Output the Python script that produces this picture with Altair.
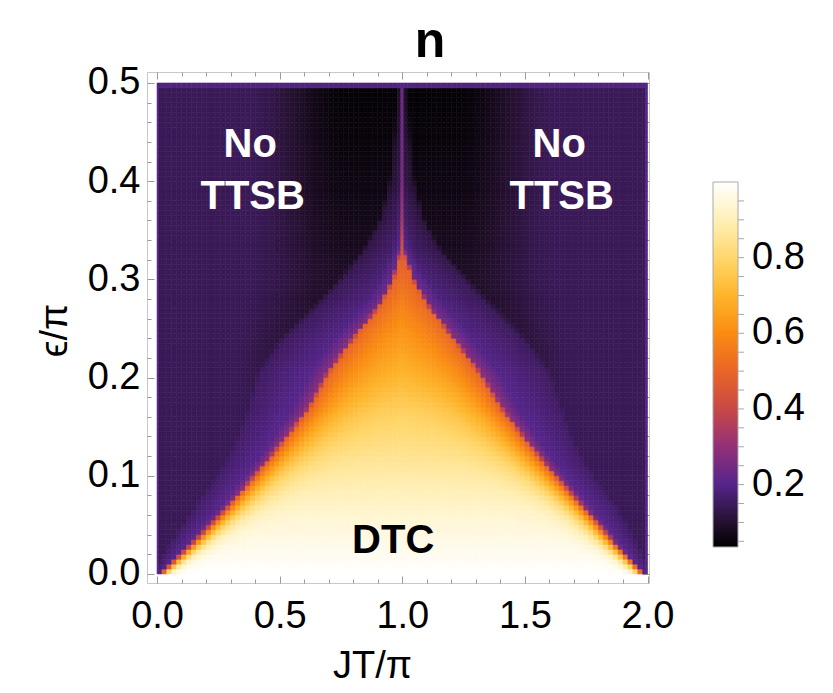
import numpy as np
import pandas as pd
import altair as alt

alt.data_transformers.disable_max_rows()

# ---- values (per epsilon row) ----
EPS_ROWS   = [0.000, 0.030, 0.065, 0.100, 0.133, 0.167, 0.205, 0.238, 0.272, 0.300, 0.330, 0.360, 0.400, 0.450, 0.500]
LEFT_EDGE  = [0.020, 0.148, 0.285, 0.405, 0.515, 0.620, 0.705, 0.800, 0.910, 0.970, 1.000, 1.000, 1.000, 1.000, 1.000]
RIGHT_EDGE = [1.980, 1.865, 1.745, 1.620, 1.510, 1.405, 1.310, 1.210, 1.105, 1.040, 1.000, 1.000, 1.000, 1.000, 1.000]
CORE_VALUE = [1.000, 0.970, 0.930, 0.880, 0.830, 0.780, 0.700, 0.640, 0.580, 0.520, 0.440, 0.330, 0.260, 0.240, 0.240]
RAMP_SCALE = [0.020, 0.040, 0.060, 0.080, 0.100, 0.120, 0.150, 0.150, 0.150, 0.150, 0.150, 0.150, 0.150, 0.150, 0.150]
HALO_WIDTH = [0.030, 0.090, 0.130, 0.150, 0.180, 0.230, 0.270, 0.270, 0.240, 0.200, 0.140, 0.080, 0.040, 0.020, 0.010]
HALO_EDGE  = [0.320, 0.320, 0.320, 0.320, 0.320, 0.310, 0.300, 0.290, 0.270, 0.250, 0.230, 0.190, 0.150, 0.130, 0.120]
HALO_VALUE = [0.205, 0.205, 0.205, 0.205, 0.205, 0.205, 0.200, 0.195, 0.188, 0.178, 0.165, 0.150, 0.130, 0.120, 0.110]
DARK_VALUE = [0.145, 0.145, 0.145, 0.145, 0.145, 0.140, 0.130, 0.115, 0.100, 0.090, 0.080, 0.070, 0.060, 0.050, 0.042]
DARK_OUTER = [0.700, 0.700, 0.700, 0.700, 0.700, 0.700, 0.700, 0.700, 0.680, 0.660, 0.650, 0.640, 0.640, 0.640, 0.640]
BACKGROUND = 0.145
TOP_BAND = 0.19
EDGE_BAND = 0.20

X_TICKS = [round(0.1 * k, 2) for k in range(21)]
Y_TICKS = [round(0.02 * k, 2) for k in range(26)]
X_LABELS = [0.0, 0.5, 1.0, 1.5, 2.0]
Y_LABELS = [0.0, 0.1, 0.2, 0.3, 0.4, 0.5]
CBAR_LABELS = [0.2, 0.4, 0.6, 0.8]
CBAR_TICKS = [round(0.05 * k, 2) for k in range(1, 20)]

COLOR_DOMAIN = [0.035, 0.1, 0.2, 0.3, 0.4, 0.5, 0.6, 0.7, 0.8, 0.9, 1.0]
COLOR_RANGE = ["#000000", "#24102e", "#55258a", "#923078", "#c94846", "#e96526",
               "#fa8b12", "#feb42a", "#ffd76c", "#fff0b8", "#ffffff"]

LABEL_TEXT = ["No", "TTSB", "No", "TTSB", "DTC"]
LABEL_X = [0.38, 0.39, 1.64, 1.65, 0.963]
LABEL_Y = [0.437, 0.384, 0.437, 0.384, 0.034]
LABEL_COLOR = ["white", "white", "white", "white", "black"]

# ---- grid cells ----
half = [0.0, 0.008] + [round(0.02 * k, 4) for k in range(1, 50)] + [0.994]
X_EDGES = half + [round(2 - e, 4) for e in reversed(half)]
Y_EDGES = [round(0.005 * k, 4) for k in range(101)]


def P(arr, e):
    return float(np.interp(e, EPS_ROWS, arr))


def smooth(u):
    u = min(max(u, 0.0), 1.0)
    return u * u * (3 - 2 * u)


def halo(d, H, HE, HV, tri):
    if tri and d < 0.012:
        return 0.5 - (0.5 - HE) * d / 0.012
    u = d / max(H, 1e-6)
    if u <= 0.3:
        return HE - (HE - HV) * u / 0.3
    if u <= 1.0:
        return HV - 0.2 * HV * (u - 0.3) / 0.7
    fade = max(0.4 * H, 0.03)
    w = (d - H) / fade
    if w < 1:
        return 0.8 * HV * (1 - smooth(w))
    return 0.0


recs = []
nx = len(X_EDGES) - 1
for j in range(len(Y_EDGES) - 1):
    y0, y1 = Y_EDGES[j], Y_EDGES[j + 1]
    e = 0.5 * (y0 + y1)
    L, R, C = P(LEFT_EDGE, e), P(RIGHT_EDGE, e), P(CORE_VALUE, e)
    s, H, HE, HV = P(RAMP_SCALE, e), P(HALO_WIDTH, e), P(HALO_EDGE, e), P(HALO_VALUE, e)
    D, B = P(DARK_VALUE, e), P(DARK_OUTER, e)
    tri = L < 0.999
    for i in range(nx):
        x0, x1 = X_EDGES[i], X_EDGES[i + 1]
        x = 0.5 * (x0 + x1)
        if abs(x - 1) < 1e-9:
            v = C
        else:
            if x < 1:
                t, span = x - L, 1 - L
            else:
                t, span = R - x, R - 1
            if tri and t >= 0:
                v = 0.5 + (C - 0.5) * (1 - np.exp(-t / s)) / (1 - np.exp(-span / s))
            else:
                d = -t
                h = halo(d, H, HE, HV, tri)
                r = abs(x - 1)
                A = max(0.22, span + H)
                if r <= A:
                    S = D
                elif r >= B:
                    S = BACKGROUND
                else:
                    S = D + (BACKGROUND - D) * smooth((r - A) / (B - A))
                v = max(h, S)
        if (i == 0 or i == nx - 1) and v < EDGE_BAND:
            v = EDGE_BAND
        if y0 >= 0.495 and v < 0.5:
            v = TOP_BAND
        recs.append((x0, x1, y0, y1, float(v)))

df = pd.DataFrame(recs, columns=["x0", "x1", "y0", "y1", "v"])

FONT = "Liberation Sans"
W, Hh = 502, 511
xs = alt.Scale(domain=[-0.041, 2.006], nice=False, zero=False)
ys = alt.Scale(domain=[-0.0092, 0.5112], nice=False, zero=False)
cscale = alt.Scale(domain=COLOR_DOMAIN, range=COLOR_RANGE, interpolate="rgb", clamp=True)

heat = alt.Chart(df).mark_rect(strokeWidth=0.6).encode(
    x=alt.X("x0:Q", scale=xs, axis=alt.Axis(
        values=X_LABELS, format=".1f", ticks=False, domain=False, grid=False,
        labelPadding=14, title="JT/π", titleX=225, titleY=94, titleBaseline="alphabetic")),
    x2="x1:Q",
    y=alt.Y("y0:Q", scale=ys, axis=alt.Axis(
        values=Y_LABELS, format=".1f", ticks=False, domain=False, grid=False,
        labelPadding=7, title="ϵ/π", titleX=-92, titleY=258, titleBaseline="middle", titleAngle=-90)),
    y2="y1:Q",
    color=alt.Color("v:Q", scale=cscale, legend=alt.Legend(
        orient="none", legendX=566, legendY=110, direction="vertical",
        gradientLength=365, gradientThickness=25, values=CBAR_LABELS, format=".1f",
        labelFontSize=38, labelFont=FONT, labelColor="black", labelOffset=14,
        labelBaseline="middle", labelOverlap=False, title=None, padding=0,
        gradientStrokeColor="#aaaaaa", gradientStrokeWidth=1)),
    stroke=alt.Stroke("v:Q", scale=cscale, legend=None),
)

major_x = {"condition": {"test": "round(datum.value*10) % 5 == 0", "value": 7}, "value": 4}
major_y = {"condition": {"test": "round(datum.value*50) % 5 == 0", "value": 7}, "value": 4}
tick_common = dict(labels=False, domain=False, grid=False, title=None, tickColor="#9a9a9a", tickWidth=1)

dummy = pd.DataFrame({"x": [0.0], "y": [0.0]})
ticks_a = alt.Chart(dummy).mark_point(opacity=0).encode(
    x=alt.X("x:Q", scale=xs, axis=alt.Axis(orient="top", offset=-Hh, values=X_TICKS, tickSize=major_x, **tick_common)),
    y=alt.Y("y:Q", scale=ys, axis=alt.Axis(orient="right", offset=-W, values=Y_TICKS, tickSize=major_y, **tick_common)),
)
ticks_b = alt.Chart(dummy).mark_point(opacity=0).encode(
    x=alt.X("x:Q", scale=xs, axis=alt.Axis(orient="bottom", offset=-Hh, values=X_TICKS, tickSize=major_x, **tick_common)),
    y=alt.Y("y:Q", scale=ys, axis=alt.Axis(orient="left", offset=-W, values=Y_TICKS, tickSize=major_y, **tick_common)),
)

# small ticks on the right side of the colour bar
cbt = pd.DataFrame({"v": CBAR_TICKS})
cbar_ticks = alt.Chart(cbt).mark_rule(color="#a8a8a8", strokeWidth=1).encode(
    y=alt.Y("v:Q", scale=alt.Scale(domain=[0.035, 1.0], range=[475, 110], nice=False, zero=False), axis=None),
    x=alt.value(591),
    x2=alt.value(597),
)

lab = pd.DataFrame({"x": LABEL_X, "y": LABEL_Y, "t": LABEL_TEXT, "c": LABEL_COLOR})
texts = alt.Chart(lab).mark_text(font=FONT, fontSize=40, fontWeight="bold", baseline="middle").encode(
    x=alt.X("x:Q", scale=xs, axis=None),
    y=alt.Y("y:Q", scale=ys, axis=None),
    text="t:N",
    color=alt.Color("c:N", scale=None),
)

chart = alt.layer(heat, ticks_a, ticks_b, cbar_ticks, texts).resolve_scale(
    x="independent", y="independent", color="independent"
).properties(
    width=W, height=Hh,
    title=alt.TitleParams("n", font=FONT, fontSize=50, fontWeight="bold", color="black",
                          anchor="middle", frame="group", dx=32, offset=-3),
    autosize=alt.AutoSizeParams(type="none"),
    padding={"left": 139, "top": 64, "right": 176, "bottom": 102},
).configure_view(stroke="#c8c8c8", strokeWidth=1).configure_axis(
    labelFont=FONT, labelFontSize=38, labelColor="black",
    titleFont=FONT, titleFontSize=38, titleFontWeight="normal", titleColor="black",
).configure_legend(gradientVerticalMaxLength=400)

chart.save("out.html", embed_options={"renderer": "svg", "actions": False})
